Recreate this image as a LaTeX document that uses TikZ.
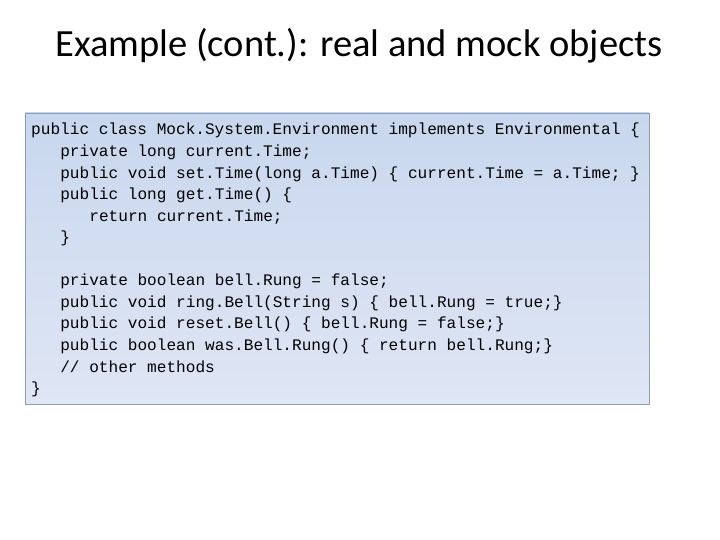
\documentclass[tikz,border=0pt]{standalone}
\usepackage{fontspec}
\setmainfont{Carlito}
\newfontfamily\codefont{Liberation Mono}
\definecolor{boxtop}{HTML}{C8D7EE}
\definecolor{boxbot}{HTML}{DFE6F4}
\definecolor{boxedge}{HTML}{8E9CB8}
\begin{document}
\begin{tikzpicture}[x=1pt,y=-1pt,
  codeline/.style={anchor=base west,inner sep=0pt,font=\codefont\fontsize{16.1}{20}\selectfont}]
\useasboundingbox (0,0) rectangle (720,540);
\fill[white] (0,0) rectangle (720,540);
\node[font=\fontsize{38.5}{44}\selectfont] (title) at (359,46) {Example (cont.): real and mock objects};
\shade[top color=boxtop, bottom color=boxbot] (25,113) rectangle (649,404);
\draw[boxedge] (25,113) rectangle (649,404);
\def\lx{31}
\foreach \i/\ind/\txt in {
 0/0/{public class Mock.System.Environment implements Environmental \{},
 1/3/{private long current.Time;},
 2/3/{public void set.Time(long a.Time) \{ current.Time = a.Time; \}},
 3/3/{public long get.Time() \{},
 4/6/{return current.Time;},
 5/3/{\}},
 7/3/{private boolean bell.Rung = false;},
 8/3/{public void ring.Bell(String s) \{ bell.Rung = true;\}},
 9/3/{public void reset.Bell() \{ bell.Rung = false;\}},
 10/3/{public boolean was.Bell.Rung() \{ return bell.Rung;\}},
 11/3/{// other methods},
 12/0/{\}}}
  \node[codeline] (l\i) at ({\lx+9.7*\ind},{135+21.55*\i}) {\txt};
\end{tikzpicture}
\end{document}
